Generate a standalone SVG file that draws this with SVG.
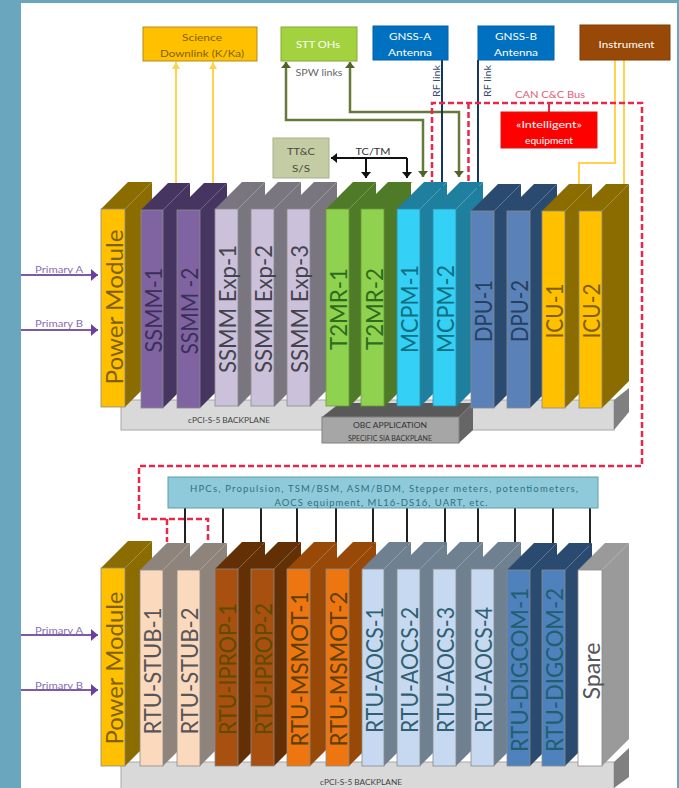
<svg xmlns="http://www.w3.org/2000/svg" width="679" height="788" viewBox="0 0 679 788">
<style>
text{font-family:"Lato","Liberation Sans",sans-serif}
.l{font-size:24px;text-anchor:middle;dominant-baseline:central}
.s{font-size:9.5px;text-anchor:middle;dominant-baseline:central}
.w{fill:#fff}
.f{stroke:#8a8a8a;stroke-width:.8}
.box{stroke-width:1}
.pw .t,.pw .d{fill:#8a6c00}.pw .f{fill:#ffc000}.pw text{fill:#7f6000}
.ss .t,.ss .d{fill:#453560}.ss .f{fill:#8064a2}.ss text{fill:#3c2f58}
.ex .t,.ex .d{fill:#79767f}.ex .f{fill:#ccc1da}.ex text{fill:#44444f}
.tm .t,.tm .d{fill:#4f7a28}.tm .f{fill:#8fd24f;stroke:#6a9a3a}.tm text{fill:#2f6b1f}
.mc .t,.mc .d{fill:#1f7f9f}.mc .f{fill:#35d0f5;stroke:#2a90a8}.mc text{fill:#0f6e80}
.dp .t,.dp .d{fill:#2b4a70}.dp .f{fill:#5a82b8}.dp text{fill:#254061}
.st .t,.st .d{fill:#8f847c}.st .f{fill:#fbd9bd}.st text{fill:#55555a}
.ip .t,.ip .d{fill:#632f05}.ip .f{fill:#a8500f}.ip text{fill:#5f4a00}
.ms .t,.ms .d{fill:#984807}.ms .f{fill:#ee7610}.ms text{fill:#5f4000}
.ao .t,.ao .d{fill:#6f8090}.ao .f{fill:#c6d9f1}.ao text{fill:#2f5f70}
.dg .t,.dg .d{fill:#2b4a70}.dg .f{fill:#4f81bd}.dg text{fill:#1f5f70}
.sp .t,.sp .d{fill:#9a9a9a}.sp .f{fill:#fff}.sp text{fill:#55555a}
.y{fill:none;stroke:#ffd34d;stroke-width:2}
.g{fill:none;stroke:#66793a;stroke-width:2.5;marker-start:url(#ag);marker-end:url(#ag)}
.n{fill:none;stroke:#17365d;stroke-width:2}
.r{fill:none;stroke:#e8284a;stroke-width:2.5;stroke-dasharray:6 3}
.b{fill:none;stroke:#111;stroke-width:2}
.k{fill:none;stroke:#222;stroke-width:2}
.p{fill:none;stroke:#7b5aa6;stroke-width:2;marker-end:url(#ap)}
</style>
<defs>
<marker id="ay" markerUnits="userSpaceOnUse" markerWidth="10" markerHeight="8" refX="7" refY="4" orient="auto"><path d="M0 0L7 4L0 8z" fill="#ffd34d"/></marker>
<marker id="ag" markerUnits="userSpaceOnUse" markerWidth="10" markerHeight="10" refX="6" refY="5" orient="auto-start-reverse"><path d="M0 0L6 5L0 10z" fill="#4f6228"/></marker>
<marker id="ak" markerUnits="userSpaceOnUse" markerWidth="10" markerHeight="10" refX="6" refY="5" orient="auto"><path d="M0 0L6 5L0 10z" fill="#111"/></marker>
<marker id="ap" markerUnits="userSpaceOnUse" markerWidth="10" markerHeight="12" refX="7" refY="6" orient="auto"><path d="M0 0L7 6L0 12z" fill="#6b3fa0"/></marker>
</defs>
<rect width="679" height="788" fill="#6aa6bd"/>
<rect x="21" y="3" width="656" height="785" fill="#fff"/>

<g id="backplane-top">
<rect x="121" y="400" width="493" height="30" fill="#d9d9d9" stroke="#a8a8a8"/>
<path d="M614 400L629 388V412L614 430z" fill="#808080"/>
<text class="s" x="229" y="420" font-size="7" style="font-size:7px" textLength="82" lengthAdjust="spacingAndGlyphs" fill="#444">cPCI-S-5 BACKPLANE</text>
</g>
<g id="backplane-bottom">
<rect x="121" y="762" width="493" height="27" fill="#d9d9d9" stroke="#a8a8a8"/>
<path d="M614 762L629 748V777L614 788z" fill="#808080"/>
<text class="s" x="361" y="782" style="font-size:7px" textLength="82" lengthAdjust="spacingAndGlyphs" fill="#444">cPCI-S-5 BACKPLANE</text>
</g>
<g id="obc-backplane">
<path d="M322 417L340 403H473L459 417z" fill="#595959"/>
<path d="M459 417L473 403V430L459 443z" fill="#666"/>
<rect x="322" y="417" width="137" height="26" fill="#a6a6a6" stroke="#808080"/>
<text class="s" x="390" y="425" style="font-size:7.5px" textLength="74" lengthAdjust="spacingAndGlyphs" fill="#333">OBC APPLICATION</text>
<text class="s" x="390" y="438" style="font-size:7.5px" textLength="84" lengthAdjust="spacingAndGlyphs" fill="#333">SPECIFIC SIA BACKPLANE</text>
</g>

<g id="connectors">
<path class="y" marker-end="url(#ay)" d="M176 190V62"/>
<path class="y" marker-end="url(#ay)" d="M213 190V62"/>
<path class="g" d="M286 62V120H423V177"/>
<path class="g" d="M350 62V112H459V177"/>
<path class="n" d="M442 60V190"/>
<path class="n" d="M478 60V190"/>
<path class="y" d="M615 60V163H579V190"/>
<path class="y" d="M624 60V190"/>
<path class="b" marker-end="url(#ak)" d="M407 158H331"/>
<path class="b" marker-end="url(#ak)" d="M366 158V178"/>
<path class="b" marker-end="url(#ak)" d="M407 158V178"/>
<path class="r" d="M432 186V103H642V466H139V519H208V542"/>
<path class="r" d="M468.500 103V186"/>
<path class="r" d="M167 519V542"/>
<path fill="none" stroke="#e8284a" stroke-width="2" d="M549 103V112"/>
<path class="k" d="M185 508V546M223 508V546M261 508V546M297 508V546M336 508V546M373 508V546M407 508V546M445 508V546M478 508V546M515 508V546M553 508V546M590 508V546"/>
<path class="p" d="M21 275H98"/>
<path class="p" d="M21 330H98"/>
<path class="p" d="M21 635H98"/>
<path class="p" d="M21 690H98"/>
</g>

<g id="labels">
<text class="s" x="59" y="269" textLength="48" lengthAdjust="spacingAndGlyphs" fill="#8a6db5">Primary A</text>
<text class="s" x="59" y="323" textLength="48" lengthAdjust="spacingAndGlyphs" fill="#8a6db5">Primary B</text>
<text class="s" x="59" y="630" textLength="48" lengthAdjust="spacingAndGlyphs" fill="#8a6db5">Primary A</text>
<text class="s" x="59" y="685" textLength="48" lengthAdjust="spacingAndGlyphs" fill="#8a6db5">Primary B</text>
<text class="s" x="319" y="72" textLength="47" lengthAdjust="spacingAndGlyphs" fill="#666">SPW links</text>
<text class="s" x="373" y="151" textLength="35" lengthAdjust="spacingAndGlyphs" fill="#333">TC/TM</text>
<text class="s" x="550" y="94" textLength="70" lengthAdjust="spacingAndGlyphs" fill="#e0607a">CAN C&amp;C Bus</text>
<text class="s" transform="translate(436 81) rotate(-90)" textLength="32" lengthAdjust="spacingAndGlyphs" fill="#3a4a70">RF link</text>
<text class="s" transform="translate(487 81) rotate(-90)" textLength="32" lengthAdjust="spacingAndGlyphs" fill="#3a4a70">RF link</text>
</g>

<g id="science-downlink">
<rect class="box" x="143" y="27" width="114" height="34" fill="#ffc000" stroke="#b08c20"/>
<text class="s" x="202" y="37" textLength="40" lengthAdjust="spacingAndGlyphs" fill="#7f6000">Science</text>
<text class="s" x="202" y="53" textLength="84" lengthAdjust="spacingAndGlyphs" fill="#7f6000">Downlink (K/Ka)</text>
</g>
<g id="stt-ohs">
<rect class="box" x="281" y="27" width="76" height="34" fill="#a2d33f" stroke="#84a93a"/>
<text class="s w" x="318" y="44" textLength="44" lengthAdjust="spacingAndGlyphs">STT OHs</text>
</g>
<g id="gnss-a">
<rect class="box" x="373" y="26" width="75" height="34" fill="#0070c0" stroke="#0060a8"/>
<text class="s w" x="410" y="36" textLength="42" lengthAdjust="spacingAndGlyphs">GNSS-A</text>
<text class="s w" x="410" y="52" textLength="44" lengthAdjust="spacingAndGlyphs">Antenna</text>
</g>
<g id="gnss-b">
<rect class="box" x="478" y="26" width="76" height="34" fill="#0070c0" stroke="#0060a8"/>
<text class="s w" x="516" y="36" textLength="42" lengthAdjust="spacingAndGlyphs">GNSS-B</text>
<text class="s w" x="516" y="52" textLength="44" lengthAdjust="spacingAndGlyphs">Antenna</text>
</g>
<g id="instrument">
<rect class="box" x="580" y="25" width="90" height="35" fill="#984807" stroke="#7f3c06"/>
<text class="s w" x="626.500" y="44" textLength="56" lengthAdjust="spacingAndGlyphs">Instrument</text>
</g>
<g id="intelligent-equipment">
<rect class="box" x="501" y="112" width="96" height="36" fill="#ff0000" stroke="#d81818"/>
<text class="s w" x="549" y="124" textLength="66" lengthAdjust="spacingAndGlyphs">«Intelligent»</text>
<text class="s w" x="549" y="140" textLength="48" lengthAdjust="spacingAndGlyphs">equipment</text>
</g>
<g id="ttc">
<rect class="box" x="273" y="138" width="56" height="40" fill="#c4cca4" stroke="#a9b08c"/>
<text class="s" x="301" y="151" textLength="28" lengthAdjust="spacingAndGlyphs" fill="#4a4a3a">TT&amp;C</text>
<text class="s" x="301" y="168" textLength="18" lengthAdjust="spacingAndGlyphs" fill="#4a4a3a">S/S</text>
</g>
<g id="interfaces">
<rect class="box" x="168" y="477" width="430" height="31" fill="#8fcadb" stroke="#5f9ea8"/>
<text class="s" x="384" y="488" textLength="388" lengthAdjust="spacing" fill="#31707f">HPCs, Propulsion, TSM/BSM, ASM/BDM, Stepper meters, potentiometers,</text>
<text class="s" x="381" y="502" textLength="213" lengthAdjust="spacing" fill="#31707f">AOCS equipment, ML16-DS16, UART, etc.</text>
</g>

<g id="power-module-top" class="pw"><path class="t" d="M101 209l27-27h24l-27 27z"/><path class="d" d="M125 209l27-27v198l-27 27z"/><rect class="f" x="101" y="209" width="24" height="198"/><text class="l" transform="translate(113 307) rotate(-90)" textLength="155" lengthAdjust="spacingAndGlyphs">Power Module</text></g>
<g id="ssmm-1" class="ss"><path class="t" d="M141 210l27-27h22l-27 27z"/><path class="d" d="M163 210l27-27v198l-27 27z"/><rect class="f" x="141" y="210" width="22" height="198"/><text class="l" transform="translate(152 310) rotate(-90)" textLength="85" lengthAdjust="spacingAndGlyphs">SSMM-1</text></g>
<g id="ssmm-2" class="ss"><path class="t" d="M177 210l27-27h23l-27 27z"/><path class="d" d="M200 210l27-27v198l-27 27z"/><rect class="f" x="177" y="210" width="23" height="198"/><text class="l" transform="translate(188 311) rotate(-90)" textLength="87" lengthAdjust="spacingAndGlyphs">SSMM -2</text></g>
<g id="ssmm-exp-1" class="ex"><path class="t" d="M215 209l27-27h23l-27 27z"/><path class="d" d="M238 209l27-27v198l-27 27z"/><rect class="f" x="215" y="209" width="23" height="197"/><text class="l" transform="translate(226 309) rotate(-90)" textLength="128" lengthAdjust="spacingAndGlyphs">SSMM Exp-1</text></g>
<g id="ssmm-exp-2" class="ex"><path class="t" d="M251 209l27-27h23l-27 27z"/><path class="d" d="M274 209l27-27v198l-27 27z"/><rect class="f" x="251" y="209" width="23" height="197"/><text class="l" transform="translate(262 309) rotate(-90)" textLength="128" lengthAdjust="spacingAndGlyphs">SSMM Exp-2</text></g>
<g id="ssmm-exp-3" class="ex"><path class="t" d="M287 209l27-27h23l-27 27z"/><path class="d" d="M310 209l27-27v198l-27 27z"/><rect class="f" x="287" y="209" width="23" height="197"/><text class="l" transform="translate(298 309) rotate(-90)" textLength="128" lengthAdjust="spacingAndGlyphs">SSMM Exp-3</text></g>
<g id="t2mr-1" class="tm"><path class="t" d="M326 209l27-27h23l-27 27z"/><path class="d" d="M349 209l27-27v198l-27 27z"/><rect class="f" x="326" y="209" width="23" height="197"/><text class="l" transform="translate(337 309) rotate(-90)" textLength="82" lengthAdjust="spacingAndGlyphs">T2MR-1</text></g>
<g id="t2mr-2" class="tm"><path class="t" d="M361 209l27-27h24l-27 27z"/><path class="d" d="M384 209l27-27v198l-27 27z"/><rect class="f" x="361" y="209" width="23" height="197"/><text class="l" transform="translate(373 309) rotate(-90)" textLength="82" lengthAdjust="spacingAndGlyphs">T2MR-2</text></g>
<g id="mcpm-1" class="mc"><path class="t" d="M397 209l27-27h23l-27 27z"/><path class="d" d="M420 209l27-27v198l-27 27z"/><rect class="f" x="397" y="209" width="23" height="197"/><text class="l" transform="translate(408 309) rotate(-90)" textLength="88" lengthAdjust="spacingAndGlyphs">MCPM-1</text></g>
<g id="mcpm-2" class="mc"><path class="t" d="M433 209l27-27h23l-27 27z"/><path class="d" d="M456 209l27-27v198l-27 27z"/><rect class="f" x="433" y="209" width="23" height="197"/><text class="l" transform="translate(444 309) rotate(-90)" textLength="88" lengthAdjust="spacingAndGlyphs">MCPM-2</text></g>
<g id="dpu-1" class="dp"><path class="t" d="M471 211l27-27h23l-27 27z"/><path class="d" d="M494 211l27-27v197l-27 27z"/><rect class="f" x="471" y="211" width="23" height="197"/><text class="l" transform="translate(482 311) rotate(-90)" textLength="62" lengthAdjust="spacingAndGlyphs">DPU-1</text></g>
<g id="dpu-2" class="dp"><path class="t" d="M507 211l27-27h23l-27 27z"/><path class="d" d="M530 211l27-27v197l-27 27z"/><rect class="f" x="507" y="211" width="23" height="197"/><text class="l" transform="translate(518 311) rotate(-90)" textLength="62" lengthAdjust="spacingAndGlyphs">DPU-2</text></g>
<g id="icu-1" class="pw"><path class="t" d="M542 211l27-27h23l-27 27z"/><path class="d" d="M565 211l27-27v197l-27 27z"/><rect class="f" x="542" y="211" width="23" height="197"/><text class="l" transform="translate(553 311) rotate(-90)" textLength="55" lengthAdjust="spacingAndGlyphs">ICU-1</text></g>
<g id="icu-2" class="pw"><path class="t" d="M579 211l27-27h23l-27 27z"/><path class="d" d="M602 211l27-27v197l-27 27z"/><rect class="f" x="579" y="211" width="23" height="197"/><text class="l" transform="translate(590 311) rotate(-90)" textLength="55" lengthAdjust="spacingAndGlyphs">ICU-2</text></g>

<g id="power-module-bottom" class="pw"><path class="t" d="M101 568l27-27h24l-27 27z"/><path class="d" d="M125 568l27-27v198l-27 27z"/><rect class="f" x="101" y="568" width="24" height="198"/><text class="l" transform="translate(113 668) rotate(-90)" textLength="153" lengthAdjust="spacingAndGlyphs">Power Module</text></g>
<g id="rtu-stub-1" class="st"><path class="t" d="M140 570l27-27h23l-27 27z"/><path class="d" d="M163 570l27-27v196l-27 27z"/><rect class="f" x="140" y="570" width="23" height="196"/><text class="l" transform="translate(151 671) rotate(-90)" textLength="127" lengthAdjust="spacingAndGlyphs">RTU-STUB-1</text></g>
<g id="rtu-stub-2" class="st"><path class="t" d="M177 570l27-27h23l-27 27z"/><path class="d" d="M200 570l27-27v196l-27 27z"/><rect class="f" x="177" y="570" width="23" height="196"/><text class="l" transform="translate(188 671) rotate(-90)" textLength="127" lengthAdjust="spacingAndGlyphs">RTU-STUB-2</text></g>
<g id="rtu-iprop-1" class="ip"><path class="t" d="M215 569l27-27h23l-27 27z"/><path class="d" d="M238 569l27-27v197l-27 27z"/><rect class="f" x="215" y="569" width="23" height="197"/><text class="l" transform="translate(226 669) rotate(-90)" textLength="132" lengthAdjust="spacingAndGlyphs">RTU-IPROP-1</text></g>
<g id="rtu-iprop-2" class="ip"><path class="t" d="M251 569l27-27h23l-27 27z"/><path class="d" d="M274 569l27-27v197l-27 27z"/><rect class="f" x="251" y="569" width="23" height="197"/><text class="l" transform="translate(262 669) rotate(-90)" textLength="132" lengthAdjust="spacingAndGlyphs">RTU-IPROP-2</text></g>
<g id="rtu-msmot-1" class="ms"><path class="t" d="M287 569l27-27h23l-27 27z"/><path class="d" d="M310 569l27-27v197l-27 27z"/><rect class="f" x="287" y="569" width="23" height="197"/><text class="l" transform="translate(298 669) rotate(-90)" textLength="155" lengthAdjust="spacingAndGlyphs">RTU-MSMOT-1</text></g>
<g id="rtu-msmot-2" class="ms"><path class="t" d="M326 569l27-27h23l-27 27z"/><path class="d" d="M349 569l27-27v197l-27 27z"/><rect class="f" x="326" y="569" width="23" height="197"/><text class="l" transform="translate(337 669) rotate(-90)" textLength="155" lengthAdjust="spacingAndGlyphs">RTU-MSMOT-2</text></g>
<g id="rtu-aocs-1" class="ao"><path class="t" d="M362 569l27-27h22l-27 27z"/><path class="d" d="M384 569l27-27v197l-27 27z"/><rect class="f" x="362" y="569" width="22" height="197"/><text class="l" transform="translate(373 670) rotate(-90)" textLength="126" lengthAdjust="spacingAndGlyphs">RTU-AOCS-1</text></g>
<g id="rtu-aocs-2" class="ao"><path class="t" d="M397 569l27-27h23l-27 27z"/><path class="d" d="M420 569l27-27v197l-27 27z"/><rect class="f" x="397" y="569" width="23" height="197"/><text class="l" transform="translate(408 670) rotate(-90)" textLength="126" lengthAdjust="spacingAndGlyphs">RTU-AOCS-2</text></g>
<g id="rtu-aocs-3" class="ao"><path class="t" d="M433 569l27-27h23l-27 27z"/><path class="d" d="M456 569l27-27v197l-27 27z"/><rect class="f" x="433" y="569" width="23" height="197"/><text class="l" transform="translate(444 670) rotate(-90)" textLength="126" lengthAdjust="spacingAndGlyphs">RTU-AOCS-3</text></g>
<g id="rtu-aocs-4" class="ao"><path class="t" d="M471 569l27-27h23l-27 27z"/><path class="d" d="M494 569l27-27v197l-27 27z"/><rect class="f" x="471" y="569" width="23" height="197"/><text class="l" transform="translate(482 670) rotate(-90)" textLength="126" lengthAdjust="spacingAndGlyphs">RTU-AOCS-4</text></g>
<g id="rtu-digcom-1" class="dg"><path class="t" d="M507 570l27-27h23l-27 27z"/><path class="d" d="M530 570l27-27v196l-27 27z"/><rect class="f" x="507" y="570" width="23" height="196"/><text class="l" transform="translate(518 670) rotate(-90)" textLength="164" lengthAdjust="spacingAndGlyphs">RTU-DIGCOM-1</text></g>
<g id="rtu-digcom-2" class="dg"><path class="t" d="M542 570l27-27h23l-27 27z"/><path class="d" d="M565 570l27-27v196l-27 27z"/><rect class="f" x="542" y="570" width="23" height="196"/><text class="l" transform="translate(553 670) rotate(-90)" textLength="164" lengthAdjust="spacingAndGlyphs">RTU-DIGCOM-2</text></g>
<g id="spare" class="sp"><path class="t" d="M578 570l27-27h24l-27 27z"/><path class="d" d="M602 570l27-27v196l-27 27z"/><rect class="f" x="578" y="570" width="24" height="196"/><text class="l" transform="translate(590 671) rotate(-90)" textLength="57" lengthAdjust="spacingAndGlyphs">Spare</text></g>
</svg>
